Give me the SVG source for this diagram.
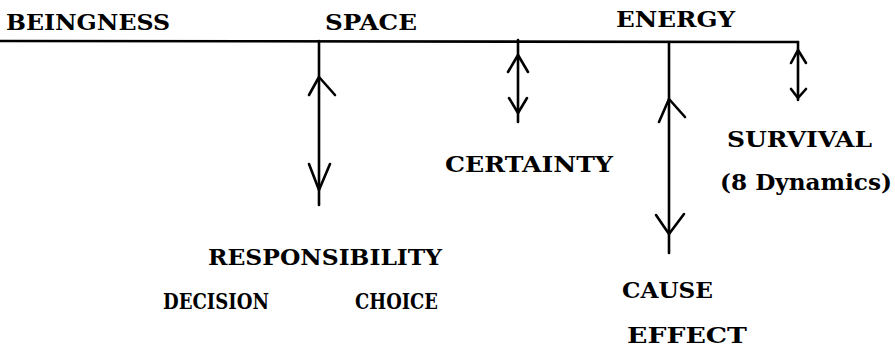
<svg xmlns="http://www.w3.org/2000/svg" width="895" height="349" viewBox="0 0 895 349">
<style>
.t{font-family:"DejaVu Serif","Liberation Serif",serif;font-weight:bold;font-size:23px;fill:#000}
.ln{stroke:#000;stroke-width:2.6;fill:none;stroke-linecap:round;stroke-linejoin:round}
</style>
<rect width="895" height="349" fill="#fff"/>
<g id="connectors">
<path class="ln" d="M0 41 L798 42"/>
<g id="space-arrow">
<path class="ln" d="M319 41 V205"/>
<path class="ln" d="M309 95 L319 77 L335 95"/>
<path class="ln" d="M309 164 L319 190 L330 164"/>
</g>
<g id="certainty-arrow">
<path class="ln" d="M518 40 V122"/>
<path class="ln" d="M508 72 L518 55 L528 72"/>
<path class="ln" d="M509 98 L518 113 L527 98"/>
</g>
<g id="cause-arrow">
<path class="ln" d="M669 42 V253"/>
<path class="ln" d="M659 122 L669 99 L685 117"/>
<path class="ln" d="M656 215 L669 234 L684 214"/>
</g>
<g id="survival-arrow">
<path class="ln" d="M798 42 V100"/>
<path class="ln" d="M791 63 L798 50 L806 63"/>
<path class="ln" d="M791 89 L798 98 L806 89"/>
</g>
</g>
<g id="beingness"><text class="t" x="6" y="30" textLength="164" lengthAdjust="spacingAndGlyphs">BEINGNESS</text></g>
<g id="space"><text class="t" x="325" y="30" textLength="92" lengthAdjust="spacingAndGlyphs">SPACE</text></g>
<g id="energy"><text class="t" x="616" y="27" textLength="119" lengthAdjust="spacingAndGlyphs">ENERGY</text></g>
<g id="certainty"><text class="t" x="445" y="172" textLength="168" lengthAdjust="spacingAndGlyphs">CERTAINTY</text></g>
<g id="survival">
<text class="t" x="727" y="147" textLength="145" lengthAdjust="spacingAndGlyphs">SURVIVAL</text>
<text class="t" x="720" y="190" textLength="172" lengthAdjust="spacingAndGlyphs">(8 Dynamics)</text>
</g>
<g id="responsibility">
<text class="t" x="208" y="265" textLength="234" lengthAdjust="spacingAndGlyphs">RESPONSIBILITY</text>
<text class="t" x="163" y="309" textLength="106" lengthAdjust="spacingAndGlyphs">DECISION</text>
<text class="t" x="355" y="309" textLength="83" lengthAdjust="spacingAndGlyphs">CHOICE</text>
</g>
<g id="cause">
<text class="t" x="622" y="298" textLength="91" lengthAdjust="spacingAndGlyphs">CAUSE</text>
<text class="t" x="627" y="343" textLength="120" lengthAdjust="spacingAndGlyphs">EFFECT</text>
</g>
</svg>
